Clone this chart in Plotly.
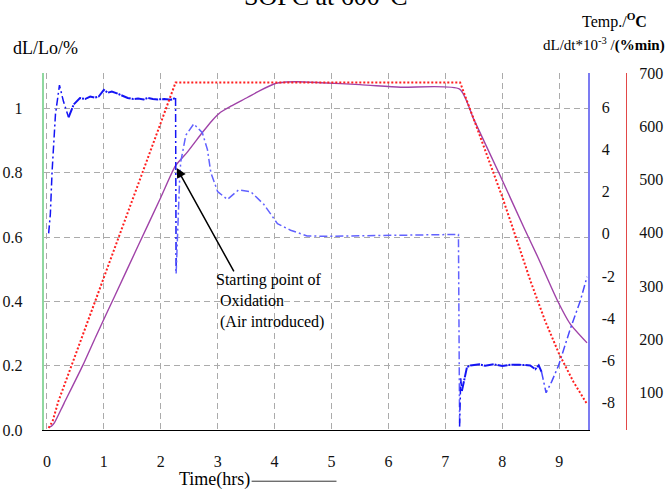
import plotly.graph_objects as go

W, H = 666, 496
FONT = "Liberation Serif"

# ---------------- data ----------------
# Temperature programme (°C), red dotted, right outer axis
time_temp = [0.03, 0.10, 0.20, 0.50, 1.00, 1.50, 2.00, 2.26, 3.0, 4.0, 5.0, 6.0, 7.0, 7.26,
             7.50, 7.75, 8.00, 8.25, 8.50, 8.75, 9.00, 9.25, 9.49]
temp_c = [33, 46, 83, 170, 315, 461, 606, 682, 682, 682, 682, 682, 682, 682,
          613, 541, 467, 388, 308, 235, 172, 120, 78]

# Dilatation dL/Lo (%), purple solid, left axis
time_dl = [0.03, 0.08, 0.13, 0.30, 0.63, 0.86, 1.20, 1.60, 2.00, 2.26, 2.47, 2.73, 2.90, 3.05,
           3.23, 3.52, 3.75, 3.99, 4.20, 4.40, 4.81, 5.50, 6.21, 7.25, 7.50, 7.96, 8.40, 8.64,
           8.96, 9.19, 9.49]
dl_lo = [0.008, 0.012, 0.022, 0.083, 0.201, 0.291, 0.420, 0.572, 0.723, 0.822, 0.865, 0.925,
         0.962, 0.988, 1.007, 1.034, 1.056, 1.076, 1.082, 1.083, 1.080, 1.074, 1.066, 1.060,
         0.966, 0.792, 0.622, 0.532, 0.406, 0.331, 0.271]

# Rate dL/dt *1e-3 (%/min), blue dash-dot, right inner axis
time_rate = [0.03, 0.06, 0.09, 0.15, 0.22, 0.29, 0.38, 0.47, 0.58, 0.67, 0.76, 0.84, 0.91, 1.00,
             1.07, 1.14, 1.23, 1.32, 1.42, 1.52, 1.60, 1.70, 1.77, 1.86, 1.95, 2.06, 2.18, 2.26,
             2.27, 2.30, 2.33, 2.35, 2.44, 2.58, 2.73, 2.82, 2.88, 3.00, 3.17, 3.37, 3.58, 3.81,
             4.05, 4.28, 4.57, 4.86, 5.33, 6.00, 6.60, 7.23, 7.25, 7.27, 7.29, 7.38, 7.44, 7.60,
             7.70, 7.85, 8.00, 8.15, 8.30, 8.49, 8.58, 8.64, 8.69, 8.77, 8.87, 8.99, 9.19, 9.37,
             9.49]
rate = [0.02, 0.94, 2.93, 5.68, 7.06, 6.29, 5.53, 6.14, 6.45, 6.40, 6.52, 6.47, 6.52, 6.83,
        6.70, 6.75, 6.67, 6.55, 6.45, 6.40, 6.42, 6.38, 6.45, 6.40, 6.38, 6.40, 6.37, 6.45,
        -1.89, 0.50, 2.50, 3.40, 4.68, 5.22, 4.80, 4.00, 2.90, 2.00, 1.63, 2.09, 2.00, 1.40,
        0.48, 0.17, -0.10, -0.12, -0.10, -0.07, -0.05, -0.03, -9.15, -6.86, -7.47, -6.33, -6.25, -6.20,
        -6.27, -6.20, -6.28, -6.22, -6.22, -6.25, -6.43, -6.25, -6.56, -7.55, -7.01, -6.25, -4.56, -3.19,
        -2.04]

x_ticks = list(range(10))
left_ticks = [0.0, 0.2, 0.4, 0.6, 0.8, 1.0]
left_ticktext = ["0.0", "0.2", "0.4", "0.6", "0.8", "1"]
rate_ticks = [-8, -6, -4, -2, 0, 2, 4, 6]
rate_ticktext = ["-8", "-6", "-4", "-2", "0", "2", "4", "6"]
temp_ticks = [100, 200, 300, 400, 500, 600, 700]

# ---------------- geometry helpers (pixels -> paper) ----------------
def px(xp):
    return xp / W

def py(yp):
    return 1 - yp / H

PL, PR, PT, PB = 42.7, 587.7, 67.0, 437.0

fig = go.Figure()

fig.add_trace(go.Scatter(x=time_temp, y=temp_c, yaxis="y3", mode="lines",
                         line=dict(color="#ff1f1f", width=2, dash="2px,2px"),
                         showlegend=False, hoverinfo="skip"))
fig.add_trace(go.Scatter(x=time_dl, y=dl_lo, yaxis="y", mode="lines",
                         line=dict(color="#a043a8", width=1.4, shape="spline", smoothing=0.6),
                         showlegend=False, hoverinfo="skip"))

# blue rate curve drawn in segments: dense (noisy) parts darker, smooth parts lighter
def seg(t0, t1):
    idx = [i for i, t in enumerate(time_rate) if t0 <= t <= t1]
    return [time_rate[i] for i in idx], [rate[i] for i in idx]

segments = [((0.0, 0.40), "#1414f5", "8px,3px,2px,3px", 1.5),
            ((0.38, 2.26), "#1414f5", "10px,1px,2px,1px", 2.0),
            ((2.26, 2.27), "#1414f5", "8px,3px,2px,3px", 1.5),
            ((2.27, 7.25), "#6262ff", "8px,3px,2px,3px", 1.5),
            ((7.25, 7.30), "#1414f5", "8px,3px,2px,3px", 1.5),
            ((7.29, 8.70), "#1414f5", "10px,1px,2px,1px", 2.0),
            ((8.69, 9.6), "#4a4aff", "8px,3px,2px,3px", 1.5)]
for (a, b), col, dsh, wd in segments:
    xs, ys = seg(a, b)
    fig.add_trace(go.Scatter(x=xs, y=ys, yaxis="y2", mode="lines",
                             line=dict(color=col, width=wd, dash=dsh),
                             showlegend=False, hoverinfo="skip"))

tickfont = dict(family=FONT, size=16, color="#111111")

fig.update_layout(
    width=W, height=H,
    margin=dict(l=0, r=0, t=0, b=0),
    paper_bgcolor="white", plot_bgcolor="white",
    showlegend=False,
    xaxis=dict(domain=[px(PL), px(PR)], range=[-0.058, 9.503],
               tickvals=x_ticks, ticktext=[str(v) for v in x_ticks],
               showgrid=True, gridcolor="#ababab", gridwidth=1.3, griddash="6px,4px",
               zeroline=False, showline=True, linecolor="black", linewidth=1.2,
               ticks="", ticklabelstandoff=17, tickfont=tickfont),
    yaxis=dict(domain=[py(PB), py(PT)], range=[0, (PB - PT) / 333.0],
               tickvals=left_ticks, ticktext=left_ticktext,
               showgrid=True, gridcolor="#ababab", gridwidth=1.3, griddash="6px,4px",
               zeroline=False, showline=True, linecolor="#8fd89f", linewidth=2,
               ticks="", ticklabelstandoff=16, tickfont=tickfont),
    yaxis2=dict(overlaying="y", side="right", anchor="x",
                range=[-9.32, 7.65], tickvals=rate_ticks, ticktext=rate_ticktext,
                showgrid=False, zeroline=False, showline=True, linecolor="#7c7cf2",
                linewidth=1.5, ticks="", ticklabelstandoff=9, tickfont=tickfont),
    yaxis3=dict(overlaying="y", side="right", anchor="free", position=px(626),
                range=[29.35, 700.5], tickvals=temp_ticks, ticktext=[str(v) for v in temp_ticks],
                showgrid=False, zeroline=False, showline=True, linecolor="#e24848",
                linewidth=1.2, ticks="", ticklabelstandoff=9, tickfont=tickfont),
)

annotations = [
    dict(text="SOFC at 600°C", x=px(325), y=py(4), xref="paper", yref="paper",
         xanchor="center", yanchor="bottom", showarrow=False, borderpad=0,
         font=dict(family=FONT, size=26, color="black")),
    dict(text="Temp./<b><sup>O</sup>C</b>", x=px(614), y=py(13), xref="paper", yref="paper",
         xanchor="center", yanchor="middle", showarrow=False,
         font=dict(family=FONT, size=16, color="black")),
    dict(text="dL/dt*10<sup>-3</sup> /<b>(%min)</b>", x=1.0, y=py(38), xref="paper", yref="paper",
         xanchor="right", yanchor="middle", showarrow=False, borderpad=0,
         font=dict(family=FONT, size=15, color="black")),
    dict(text="dL/Lo/%", x=px(45), y=py(41), xref="paper", yref="paper",
         xanchor="center", yanchor="middle", showarrow=False,
         font=dict(family=FONT, size=18, color="black")),
    dict(text="Time(hrs)", x=px(214), y=py(488), xref="paper", yref="paper",
         xanchor="center", yanchor="middle", showarrow=False, borderpad=0,
         font=dict(family=FONT, size=18, color="black")),
    dict(text="Starting point of<br>\u00a0Oxidation<br>\u00a0(Air introduced)",
         x=px(214), y=py(271), xref="paper", yref="paper", xanchor="left", yanchor="top",
         align="left", showarrow=False, borderpad=0,
         font=dict(family=FONT, size=16, color="black")),
    dict(text="", x=2.28, y=0.815, xref="x", yref="y", showarrow=True,
         ax=58, ay=105, axref="pixel", ayref="pixel",
         arrowhead=2, arrowsize=1.3, arrowwidth=1.5, arrowcolor="black"),
]
fig.update_layout(annotations=annotations)

fig.add_shape(type="line", xref="paper", yref="paper",
              x0=px(251), x1=px(336), y0=py(490), y1=py(490),
              line=dict(color="#333333", width=1))

fig.write_html("out.html")
